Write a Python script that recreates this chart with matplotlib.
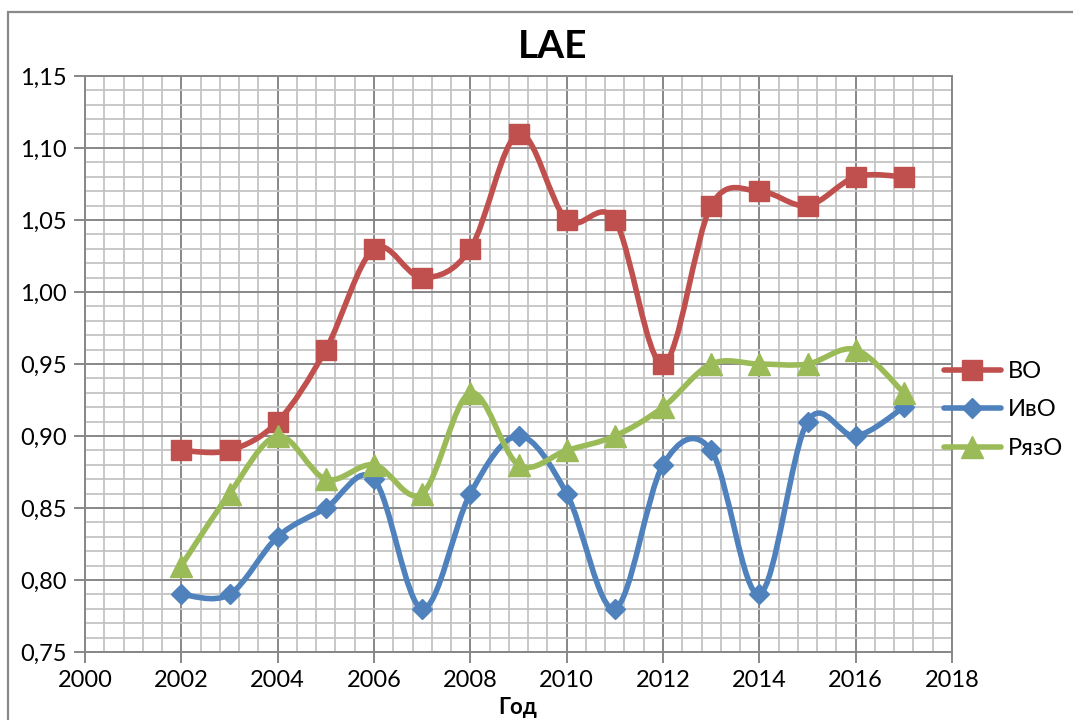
import matplotlib
matplotlib.use("Agg")
import matplotlib.pyplot as plt
from matplotlib.path import Path
from matplotlib.patches import PathPatch, Rectangle
from matplotlib.lines import Line2D
from matplotlib.ticker import MultipleLocator, FuncFormatter
import numpy as np

plt.rcParams['font.family'] = ['Lato', 'DejaVu Sans']

years = [2002, 2003, 2004, 2005, 2006, 2007, 2008, 2009, 2010, 2011, 2012, 2013, 2014, 2015, 2016, 2017]
vo = [0.89, 0.89, 0.91, 0.96, 1.03, 1.01, 1.03, 1.11, 1.05, 1.05, 0.95, 1.06, 1.07, 1.06, 1.08, 1.08]
ivo = [0.79, 0.79, 0.83, 0.85, 0.87, 0.78, 0.86, 0.90, 0.86, 0.78, 0.88, 0.89, 0.79, 0.91, 0.90, 0.92]
ryazo = [0.81, 0.86, 0.90, 0.87, 0.88, 0.86, 0.93, 0.88, 0.89, 0.90, 0.92, 0.95, 0.95, 0.95, 0.96, 0.93]

series = [
    ("ВО", vo, "#C0504D", "s", 14),
    ("ИвО", ivo, "#4F81BD", "D", 10.5),
    ("РязО", ryazo, "#9BBB59", "^", 15.5),
]

W, H = 1073, 720
fig = plt.figure(figsize=(W / 100, H / 100), dpi=100)
ax = fig.add_axes([85 / W, 1 - 652 / H, (952 - 85) / W, (652 - 76) / H])


def smooth_path(x, y):
    pts = np.column_stack([x, y]).astype(float)
    n = len(pts)
    verts = [pts[0]]
    codes = [Path.MOVETO]
    for i in range(n - 1):
        p0 = pts[i - 1] if i > 0 else pts[i]
        p1 = pts[i]
        p2 = pts[i + 1]
        p3 = pts[i + 2] if i + 2 < n else pts[i + 1]
        c1 = p1 + (p2 - p0) / 6.0
        c2 = p2 - (p3 - p1) / 6.0
        verts += [c1, c2, p2]
        codes += [Path.CURVE4] * 3
    return Path(verts, codes)


LW = 4.0
handles = []
for name, vals, color, marker, ms in series:
    patch = PathPatch(smooth_path(years, vals), facecolor='none', edgecolor=color,
                      lw=LW, capstyle='round', joinstyle='round', zorder=3)
    ax.add_patch(patch)
    ax.plot(years, vals, linestyle='none', marker=marker, markersize=ms,
            color=color, markeredgecolor=color, zorder=4)
    handles.append(Line2D([0], [0], color=color, lw=LW, marker=marker,
                          markersize=ms, solid_capstyle='round'))

ax.set_xlim(2000, 2018)
ax.set_ylim(0.75, 1.15)
ax.xaxis.set_major_locator(MultipleLocator(2))
ax.xaxis.set_minor_locator(MultipleLocator(0.4))
ax.yaxis.set_major_locator(MultipleLocator(0.05))
ax.yaxis.set_minor_locator(MultipleLocator(0.01))
ax.yaxis.set_major_formatter(FuncFormatter(lambda v, p: f"{v:.2f}".replace('.', ',')))
ax.xaxis.set_major_formatter(FuncFormatter(lambda v, p: f"{int(round(v))}"))

ax.grid(which='major', color='#878787', lw=1.4, zorder=1)
ax.grid(which='minor', color='#C4C4C4', lw=1.3, zorder=0)
ax.tick_params(which='major', direction='out', length=8, width=1.4, color='#878787',
               labelsize=17, labelcolor='black', pad=5)
ax.tick_params(which='minor', length=0)
for s in ax.spines.values():
    s.set_color('#878787')
    s.set_linewidth(1.4)

fig.text(553 / W, 1 - 47 / H, "LAE", ha='center', va='center', fontsize=28, fontweight='bold')
fig.text(518 / W, 1 - 707 / H, "Год", ha='center', va='center', fontsize=16, fontweight='bold')

fig.legend(handles, [s[0] for s in series], loc='center left',
           bbox_to_anchor=(944 / W, 1 - 410 / H), frameon=False, fontsize=17,
           borderpad=0, borderaxespad=0, handlelength=2.4, handletextpad=0.3,
           labelspacing=0.75)

fig.patches.append(Rectangle((8 / W, -0.2), 1.2, 1.2 - 12 / H, transform=fig.transFigure,
                             fill=False, edgecolor='#898989', lw=1.6))

fig.savefig("out.png", dpi=100)
